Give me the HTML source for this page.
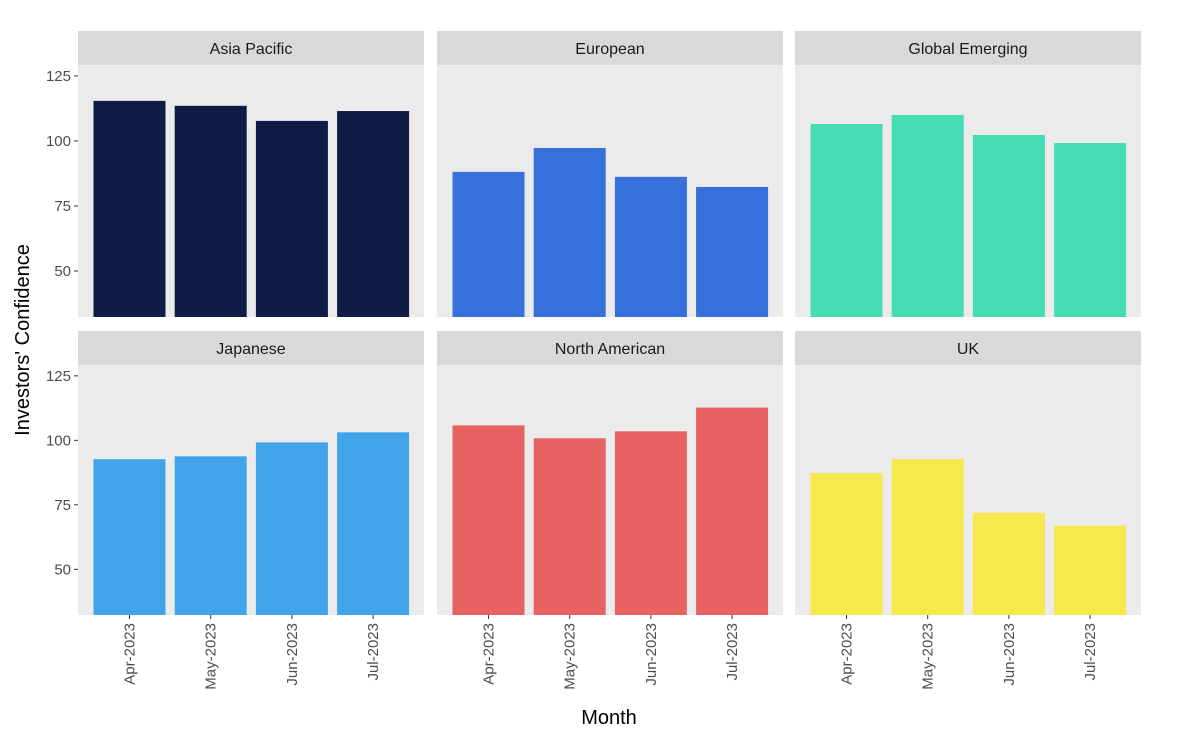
<!DOCTYPE html>
<html><head><meta charset="utf-8"><style>
body{margin:0;background:#fff;}
svg{display:block;font-family:"Liberation Sans",Arial,sans-serif;}
</style></head><body>
<svg id="chart" width="1192" height="741" viewBox="0 0 1192 741"></svg>
<script>
const months = ["Apr-2023","May-2023","Jun-2023","Jul-2023"];
const regions = ["Asia Pacific","European","Global Emerging","Japanese","North American","UK"];
const asiaPacific = [115.4,113.5,107.7,111.5];
const european = [88.1,97.3,86.2,82.3];
const globalEmerging = [106.5,110,102.3,99.2];
const japanese = [92.7,93.8,99.2,103.1];
const northAmerican = [105.8,100.8,103.5,112.7];
const uk = [87.3,92.7,71.9,66.9];
const yTicks = [50,75,100,125];
const series = [asiaPacific,european,globalEmerging,japanese,northAmerican,uk];
const colors = ["#101c45","#3570db","#46dcb4","#42a5ec","#e86163","#f7e84e"];
const NS="http://www.w3.org/2000/svg";
const svg=document.getElementById('chart');
function mk(tag,attrs,parent){const e=document.createElementNS(NS,tag);for(const k in attrs)e.setAttribute(k,attrs[k]);(parent||svg).appendChild(e);return e;}
const colX=[78,437,795], panelW=346;
const rows=[{stripTop:31,top:65,bottom:317},{stripTop:331,top:365,bottom:615}];
const yMin=32.3,yMax=129.2;
const step=81.2;
for(let i=0;i<6;i++){
  const c=i%3,r=Math.floor(i/3),R=rows[r],x0=colX[c];
  const y=v=>R.bottom-(v-yMin)/(yMax-yMin)*(R.bottom-R.top);
  const xs=k=>x0+51.5+k*step;
  const g=mk('g',{});
  
  
  const strip=mk('rect',{x:x0,y:R.stripTop,width:panelW,height:R.top-R.stripTop,fill:'#d9d9d9'},g);
  
  
  const st=mk('text',{x:x0+panelW/2,y:R.stripTop+23,'text-anchor':'middle','font-size':16,fill:'#1a1a1a'},g);
  st.textContent=regions[i];
  
  
  const bg=mk('rect',{x:x0,y:R.top,width:panelW,height:R.bottom-R.top,fill:'#ebebeb'},g);
  
  
  const bw=72;
  series[i].forEach((v,k)=>{
    const b=mk('rect',{x:xs(k)-bw/2,y:y(v),width:bw,height:R.bottom-y(v),fill:colors[i]},g);
    
    
  });
  if(c===0){
    yTicks.forEach(t=>{
      mk('line',{x1:x0-4,x2:x0,y1:y(t),y2:y(t),stroke:'#333'},g);
      const tl=mk('text',{x:x0-7,y:y(t)+5,'text-anchor':'end','font-size':15,fill:'#4d4d4d'},g);
      tl.textContent=t;
      
      
    });
  }
  if(r===1){
    months.forEach((m,k)=>{
      mk('line',{x1:xs(k),x2:xs(k),y1:R.bottom,y2:R.bottom+4,stroke:'#333'},g);
      const tl=mk('text',{x:0,y:0,'text-anchor':'end','font-size':15,fill:'#4d4d4d',transform:`translate(${xs(k)+5},${R.bottom+8}) rotate(-90)`},g);
      tl.textContent=m;
      
      
    });
  }
}
const xt=mk('text',{x:609,y:724,'text-anchor':'middle','font-size':20,fill:'#000'});
xt.textContent='Month';


const yt=mk('text',{x:0,y:0,'text-anchor':'middle','font-size':20,fill:'#000',transform:'translate(29,340) rotate(-90)'});
yt.textContent="Investors' Confidence";


</script>
</body></html>
